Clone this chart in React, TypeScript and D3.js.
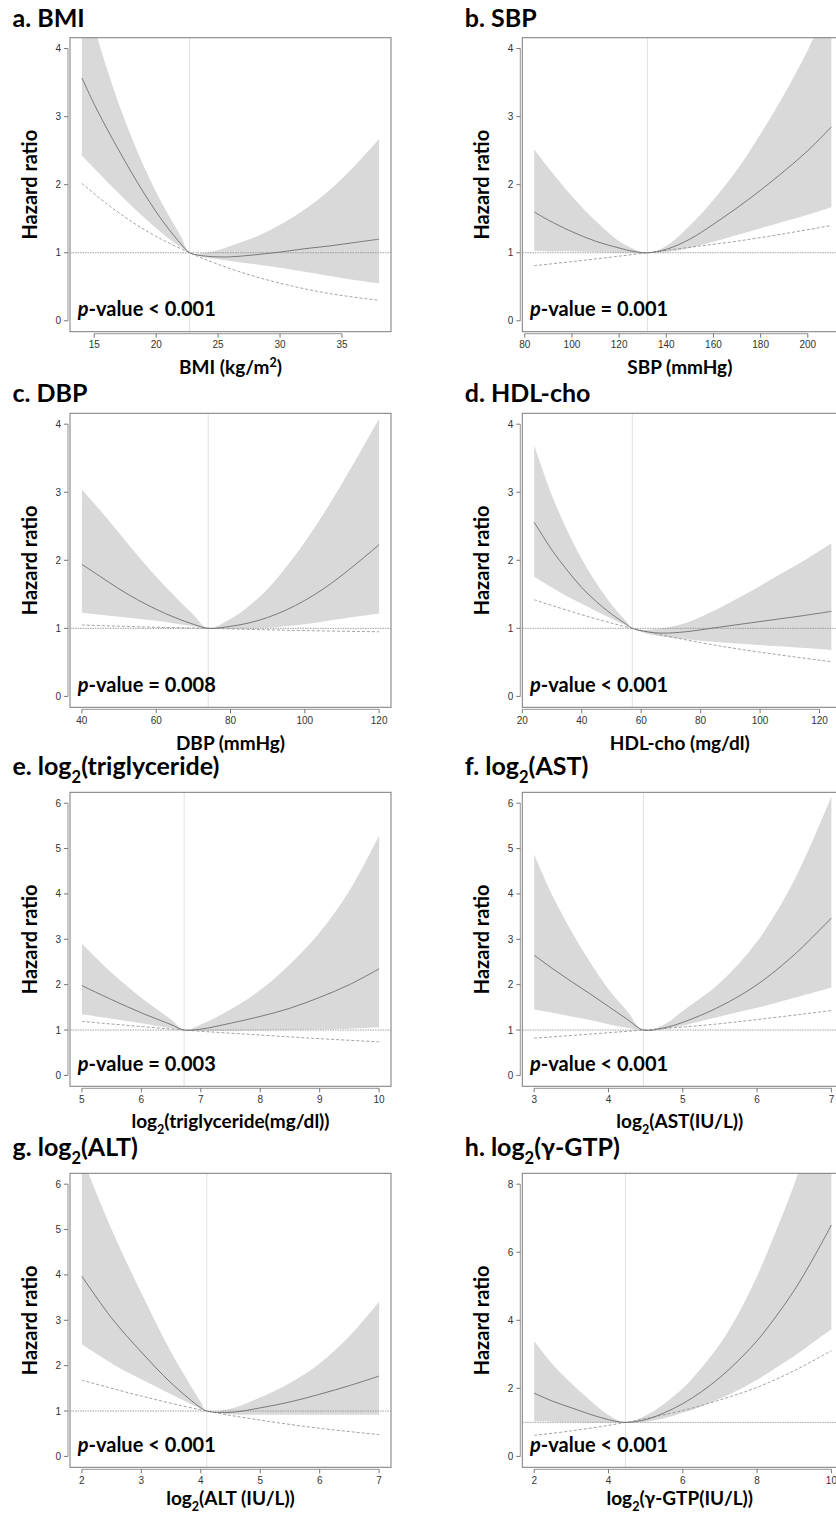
import React from 'react';
import * as d3 from 'd3';

// a. BMI
const bmiX = [14, 15, 16, 17, 18, 19, 20, 21, 22, 22.7, 24, 25, 26, 28, 30, 32, 34, 36, 38];
const bmiHR = [3.57, 3.18, 2.83, 2.5, 2.18, 1.88, 1.6, 1.35, 1.13, 1.0, 0.95, 0.94, 0.94, 0.97, 1.01, 1.06, 1.1, 1.15, 1.2];
const bmiLower = [2.43, 2.24, 2.05, 1.87, 1.69, 1.52, 1.36, 1.21, 1.08, 1.0, 0.93, 0.905, 0.88, 0.83, 0.78, 0.72, 0.66, 0.6, 0.55];
const bmiUpper = [5.0, 4.32, 3.72, 3.18, 2.7, 2.27, 1.89, 1.55, 1.24, 1.0, 1.0, 1.04, 1.1, 1.23, 1.41, 1.64, 1.92, 2.27, 2.67];
const bmiLinX = [14, 16, 18, 20, 22.7, 25, 28, 31, 34, 38];
const bmiLin = [2.02, 1.72, 1.46, 1.24, 1.0, 0.83, 0.65, 0.51, 0.4, 0.3];

// b. SBP
const sbpX = [84, 90, 100, 110, 120, 126, 132, 140, 150, 160, 170, 180, 190, 200, 210];
const sbpHR = [1.6, 1.48, 1.31, 1.17, 1.07, 1.02, 1.0, 1.05, 1.2, 1.42, 1.66, 1.92, 2.2, 2.5, 2.85];
const sbpLower = [1.03, 1.02, 1.02, 1.01, 1.0, 1.0, 1.0, 1.01, 1.07, 1.16, 1.26, 1.36, 1.46, 1.56, 1.67];
const sbpUpper = [2.52, 2.25, 1.83, 1.47, 1.17, 1.06, 1.0, 1.1, 1.4, 1.78, 2.22, 2.75, 3.33, 3.98, 4.75];
const sbpLinX = [84, 100, 120, 132, 150, 170, 190, 210];
const sbpLin = [0.81, 0.87, 0.95, 1.0, 1.08, 1.17, 1.28, 1.4];

// c. DBP
const dbpX = [40, 45, 50, 55, 60, 65, 70, 74, 80, 85, 90, 95, 100, 105, 110, 115, 120];
const dbpHR = [1.94, 1.76, 1.58, 1.42, 1.28, 1.16, 1.06, 1.0, 1.03, 1.08, 1.16, 1.27, 1.41, 1.58, 1.78, 2.0, 2.23];
const dbpLower = [1.23, 1.2, 1.17, 1.14, 1.11, 1.07, 1.03, 1.0, 1.0, 1.0, 1.01, 1.03, 1.06, 1.1, 1.14, 1.18, 1.22];
const dbpUpper = [3.04, 2.73, 2.4, 2.07, 1.76, 1.47, 1.2, 1.0, 1.14, 1.33, 1.58, 1.9, 2.27, 2.68, 3.13, 3.6, 4.08];
const dbpLinX = [40, 57, 74, 97, 120];
const dbpLin = [1.05, 1.02, 1.0, 0.97, 0.95];

// d. HDL-cho
const hdlX = [24, 30, 35, 40, 45, 50, 55, 57, 62, 67, 75, 85, 95, 105, 115, 124];
const hdlHR = [2.56, 2.15, 1.86, 1.6, 1.39, 1.21, 1.06, 1.0, 0.95, 0.93, 0.95, 1.01, 1.07, 1.13, 1.19, 1.25];
const hdlLower = [1.76, 1.6, 1.47, 1.36, 1.25, 1.14, 1.04, 1.0, 0.92, 0.88, 0.84, 0.8, 0.77, 0.74, 0.71, 0.68];
const hdlUpper = [3.69, 2.95, 2.45, 2.02, 1.66, 1.35, 1.1, 1.0, 0.98, 1.0, 1.08, 1.27, 1.5, 1.75, 2.0, 2.25];
const hdlLinX = [24, 40, 57, 80, 100, 124];
const hdlLin = [1.42, 1.2, 1.0, 0.79, 0.65, 0.51];

// e. log2(triglyceride)
const tgX = [5, 5.5, 6, 6.5, 6.72, 7, 7.5, 8, 8.5, 9, 9.5, 10];
const tgHR = [1.98, 1.67, 1.38, 1.12, 1.0, 1.02, 1.15, 1.3, 1.48, 1.72, 2.0, 2.35];
const tgLower = [1.35, 1.25, 1.15, 1.04, 1.0, 0.98, 0.98, 0.99, 1.0, 1.01, 1.03, 1.06];
const tgUpper = [2.9, 2.26, 1.71, 1.23, 1.0, 1.12, 1.45, 1.88, 2.45, 3.15, 4.07, 5.29];
const tgLinX = [5, 6.72, 8, 9, 10];
const tgLin = [1.19, 1.0, 0.89, 0.81, 0.74];

// f. log2(AST)
const astX = [3, 3.25, 3.5, 3.75, 4, 4.25, 4.47, 4.75, 5, 5.5, 6, 6.5, 7];
const astHR = [2.65, 2.35, 2.07, 1.8, 1.52, 1.24, 1.0, 1.05, 1.17, 1.52, 2.0, 2.66, 3.47];
const astLower = [1.45, 1.38, 1.3, 1.22, 1.13, 1.05, 1.0, 1.02, 1.1, 1.3, 1.49, 1.71, 1.94];
const astUpper = [4.87, 3.95, 3.18, 2.5, 1.9, 1.42, 1.0, 1.12, 1.42, 2.04, 2.95, 4.3, 6.15];
const astLinX = [3, 4.47, 5.5, 7];
const astLin = [0.82, 1.0, 1.14, 1.43];

// g. log2(ALT)
const altX = [2, 2.5, 3, 3.5, 4, 4.1, 4.5, 5, 5.5, 6, 6.5, 7];
const altHR = [3.97, 3.05, 2.3, 1.62, 1.07, 1.0, 0.97, 1.07, 1.2, 1.37, 1.56, 1.77];
const altLower = [2.47, 2.05, 1.7, 1.37, 1.05, 1.0, 0.93, 0.92, 0.92, 0.92, 0.92, 0.92];
const altUpper = [6.6, 5.0, 3.6, 2.3, 1.2, 1.0, 1.05, 1.3, 1.62, 2.05, 2.65, 3.41];
const altLinX = [2, 3, 4.1, 5, 6, 7];
const altLin = [1.68, 1.33, 1.0, 0.8, 0.62, 0.48];

// h. log2(γ-GTP)
const gtpX = [2, 2.5, 3, 3.5, 4, 4.46, 5, 5.5, 6, 6.5, 7, 7.5, 8, 8.5, 9, 9.5, 10];
const gtpHR = [1.86, 1.62, 1.43, 1.24, 1.08, 1.0, 1.08, 1.28, 1.55, 1.9, 2.32, 2.82, 3.4, 4.1, 4.88, 5.8, 6.8];
const gtpLower = [1.03, 1.02, 1.01, 1.0, 1.0, 1.0, 1.02, 1.12, 1.28, 1.47, 1.7, 1.95, 2.25, 2.6, 2.95, 3.35, 3.74];
const gtpUpper = [3.39, 2.7, 2.15, 1.65, 1.22, 1.0, 1.2, 1.55, 2.0, 2.6, 3.3, 4.2, 5.3, 6.6, 8.0, 9.6, 11.5];
const gtpLinX = [2, 3, 4.46, 6, 7, 8, 9, 10];
const gtpLin = [0.62, 0.75, 1.0, 1.35, 1.66, 2.03, 2.52, 3.11];

// reference values (vertical line)
const refValues = [22.7, 132, 74, 57, 6.72, 4.47, 4.1, 4.46];

// axis ticks
const xTickSets = [
  [15, 20, 25, 30, 35],
  [80, 100, 120, 140, 160, 180, 200],
  [40, 60, 80, 100, 120],
  [20, 40, 60, 80, 100, 120],
  [5, 6, 7, 8, 9, 10],
  [3, 4, 5, 6, 7],
  [2, 3, 4, 5, 6, 7],
  [2, 4, 6, 8, 10],
];
const yTicks4 = [0, 1, 2, 3, 4];
const yTicks6 = [0, 1, 2, 3, 4, 5, 6];
const yTicks8 = [0, 2, 4, 6, 8];

const pValues = ['< 0.001', '= 0.001', '= 0.008', '< 0.001', '= 0.003', '< 0.001', '< 0.001', '< 0.001'];

type Part = { t: string; sub?: boolean; sup?: boolean; it?: boolean };

const titles: Part[][] = [
  [{ t: 'a. BMI' }],
  [{ t: 'b. SBP' }],
  [{ t: 'c. DBP' }],
  [{ t: 'd. HDL-cho' }],
  [{ t: 'e. log' }, { t: '2', sub: true }, { t: '(triglyceride)' }],
  [{ t: 'f. log' }, { t: '2', sub: true }, { t: '(AST)' }],
  [{ t: 'g. log' }, { t: '2', sub: true }, { t: '(ALT)' }],
  [{ t: 'h. log' }, { t: '2', sub: true }, { t: '(γ-GTP)' }],
];

const xLabels: Part[][] = [
  [{ t: 'BMI (kg/m' }, { t: '2', sup: true }, { t: ')' }],
  [{ t: 'SBP (mmHg)' }],
  [{ t: 'DBP (mmHg)' }],
  [{ t: 'HDL-cho (mg/dl)' }],
  [{ t: 'log' }, { t: '2', sub: true }, { t: '(triglyceride(mg/dl))' }],
  [{ t: 'log' }, { t: '2', sub: true }, { t: '(AST(IU/L))' }],
  [{ t: 'log' }, { t: '2', sub: true }, { t: '(ALT (IU/L))' }],
  [{ t: 'log' }, { t: '2', sub: true }, { t: '(γ-GTP(IU/L))' }],
];

const panels = [
  { x: bmiX, hr: bmiHR, lo: bmiLower, hi: bmiUpper, linX: bmiLinX, lin: bmiLin, yMax: 4, yTicks: yTicks4 },
  { x: sbpX, hr: sbpHR, lo: sbpLower, hi: sbpUpper, linX: sbpLinX, lin: sbpLin, yMax: 4, yTicks: yTicks4 },
  { x: dbpX, hr: dbpHR, lo: dbpLower, hi: dbpUpper, linX: dbpLinX, lin: dbpLin, yMax: 4, yTicks: yTicks4 },
  { x: hdlX, hr: hdlHR, lo: hdlLower, hi: hdlUpper, linX: hdlLinX, lin: hdlLin, yMax: 4, yTicks: yTicks4 },
  { x: tgX, hr: tgHR, lo: tgLower, hi: tgUpper, linX: tgLinX, lin: tgLin, yMax: 6, yTicks: yTicks6 },
  { x: astX, hr: astHR, lo: astLower, hi: astUpper, linX: astLinX, lin: astLin, yMax: 6, yTicks: yTicks6 },
  { x: altX, hr: altHR, lo: altLower, hi: altUpper, linX: altLinX, lin: altLin, yMax: 6, yTicks: yTicks6 },
  { x: gtpX, hr: gtpHR, lo: gtpLower, hi: gtpUpper, linX: gtpLinX, lin: gtpLin, yMax: 8, yTicks: yTicks8 },
];

// layout
const W = 836;
const H = 1515;
const PLOT_W = 321;
const PLOT_H = 294;
const COL_X = [70, 522.3];
const ROW_Y = [37.7, 413.3, 792.3, 1173.3];
const TITLE_Y = [27, 402, 775, 1156];
const XLAB_OFF = [42.5, 42.5, 41.5, 38];
const LABEL_FONT = "Lato, 'Open Sans', sans-serif";
const TICK_FONT = "'Liberation Sans', Arial, sans-serif";

const Rich = ({ parts, size, ...rest }: { parts: Part[]; size: number; [k: string]: any }) => {
  let shift = 0;
  return (
    <text fontSize={size} {...rest}>
      {parts.map((p, i) => {
        let target = 0;
        if (p.sub) target = size * 0.3;
        if (p.sup) target = -size * 0.38;
        const dy = target - shift;
        shift = target;
        return (
          <tspan key={i} dy={dy || undefined} fontSize={p.sub || p.sup ? size * 0.66 : size} fontStyle={p.it ? 'italic' : undefined}>
            {p.t}
          </tspan>
        );
      })}
    </text>
  );
};

const Panel = ({ idx }: { idx: number }) => {
  const p = panels[idx];
  const col = idx % 2;
  const row = Math.floor(idx / 2);
  const x0 = COL_X[col];
  const y0 = ROW_Y[row];
  const [xmin, xmax] = d3.extent(p.x) as [number, number];
  const pad = (xmax - xmin) * 0.04;
  const x = d3.scaleLinear().domain([xmin - pad, xmax + pad]).range([x0, x0 + PLOT_W]);
  const y = d3.scaleLinear().domain([-0.04 * p.yMax, 1.04 * p.yMax]).range([y0 + PLOT_H, y0]);
  const curve = d3.curveCatmullRom.alpha(0.5);

  const pts = p.x.map((v, i) => ({ x: v, hr: p.hr[i], lo: p.lo[i], hi: p.hi[i] }));
  const band = d3.area<any>().x(d => x(d.x)).y0(d => y(d.lo)).y1(d => y(d.hi)).curve(curve)(pts) || '';
  const main = d3.line<any>().x(d => x(d.x)).y(d => y(d.hr)).curve(curve)(pts) || '';
  const linPts = p.linX.map((v, i) => [v, p.lin[i]] as [number, number]);
  const lin = d3.line<[number, number]>().x(d => x(d[0])).y(d => y(d[1])).curve(curve)(linPts) || '';

  const axX = x0 - 2;
  const axY = y0 + PLOT_H + 2;
  const xTicks = xTickSets[idx];
  const clipId = `clip-${idx}`;
  const cx = x0 + PLOT_W / 2 - (col === 1 ? 3 : 0);
  const cy = y0 + PLOT_H / 2;

  return (
    <g>
      <defs>
        <clipPath id={clipId}>
          <rect x={x0} y={y0} width={PLOT_W} height={PLOT_H} />
        </clipPath>
      </defs>
      <Rich parts={titles[idx]} size={25} x={x0 - 57.5} y={TITLE_Y[row]} fontFamily={LABEL_FONT} fontWeight="bold" fill="#000" />
      <g clipPath={`url(#${clipId})`}>
        <path d={band} fill="#d9d9d9" stroke="none" />
        <line x1={x(refValues[idx])} x2={x(refValues[idx])} y1={y0} y2={y0 + PLOT_H} stroke="#e0e0e0" strokeWidth={1} />
        <line x1={x0} x2={x0 + PLOT_W} y1={y(1)} y2={y(1)} stroke="#8a8a8a" strokeWidth={0.8} strokeDasharray="1.5,1" />
        <path d={lin} fill="none" stroke="#8c8c8c" strokeWidth={0.8} strokeDasharray="3,2" />
        <path d={main} fill="none" stroke="#6e6e6e" strokeWidth={0.9} />
      </g>
      <rect x={x0} y={y0} width={PLOT_W} height={PLOT_H} fill="none" stroke="#7a7a7a" strokeWidth={1} />
      {/* y axis */}
      <line x1={axX} x2={axX} y1={y(p.yTicks[0])} y2={y(p.yTicks[p.yTicks.length - 1])} stroke="#7a7a7a" strokeWidth={0.8} />
      {p.yTicks.map(t => (
        <g key={`y${t}`}>
          <line x1={axX - 4} x2={axX} y1={y(t)} y2={y(t)} stroke="#555" strokeWidth={0.8} />
          <text x={axX - 7} y={y(t)} dy="0.35em" textAnchor="end" fontFamily={TICK_FONT} fontSize={10} fill="#333">
            {t}
          </text>
        </g>
      ))}
      {/* x axis */}
      <line x1={x(xTicks[0])} x2={x(xTicks[xTicks.length - 1])} y1={axY} y2={axY} stroke="#7a7a7a" strokeWidth={0.8} />
      {xTicks.map(t => (
        <g key={`x${t}`}>
          <line x1={x(t)} x2={x(t)} y1={axY} y2={axY + 4} stroke="#555" strokeWidth={0.8} />
          <text x={x(t)} y={y0 + PLOT_H + 16.5} textAnchor="middle" fontFamily={TICK_FONT} fontSize={10} fill="#333">
            {t}
          </text>
        </g>
      ))}
      <text
        transform={`translate(${x0 - 40},${cy}) rotate(-90)`}
        textAnchor="middle"
        dy="0.35em"
        fontFamily={LABEL_FONT}
        fontWeight="bold"
        fontSize={20}
        fill="#000"
      >
        Hazard ratio
      </text>
      <Rich
        parts={[{ t: 'p', it: true }, { t: `-value ${pValues[idx]}` }]}
        size={20}
        x={x0 + 7.7}
        y={y0 + PLOT_H - 15.7}
        fontFamily={LABEL_FONT}
        fontWeight="bold"
        fill="#000"
      />
      <Rich
        parts={xLabels[idx]}
        size={19}
        x={cx}
        y={y0 + PLOT_H + XLAB_OFF[row]}
        textAnchor="middle"
        fontFamily={LABEL_FONT}
        fontWeight="bold"
        fill="#000"
      />
    </g>
  );
};

const App = () => {
  return (
    <svg width={W} height={H} style={{ position: 'absolute', left: 0, top: 0, background: '#fff' }}>
      <rect x={0} y={0} width={W} height={H} fill="#fff" />
      {panels.map((_, i) => (
        <Panel key={i} idx={i} />
      ))}
    </svg>
  );
};

export default App;
